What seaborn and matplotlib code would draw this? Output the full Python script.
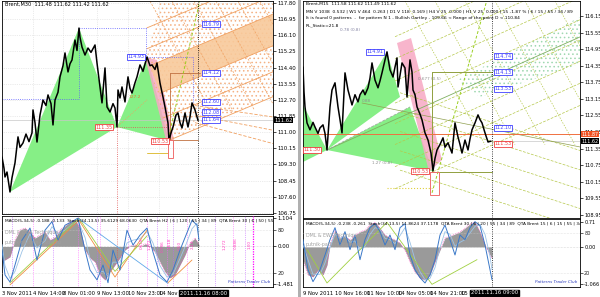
import numpy as np
import pandas as pd
import matplotlib
matplotlib.use("Agg")
import matplotlib.pyplot as plt
import seaborn as sns
from matplotlib.patches import Polygon, Rectangle

sns.set_theme(style="white")
plt.rcParams["font.family"] = ["DejaVu Sans"]
plt.rcParams["hatch.linewidth"] = 0.6

# ---------------- data: left chart (Brent M30) ----------------
left_bar = [2, 4, 5, 7, 10, 12, 15, 18, 20, 23, 26, 29, 32, 33, 35, 37, 40, 43, 46, 48, 51, 53, 55, 58,
            60, 63, 65, 68, 70, 72, 75, 77, 79, 80, 82, 85, 88, 91, 95, 97, 100, 102, 105, 107, 110,
            113, 115, 117, 118, 120, 122, 125, 128, 130, 132, 135, 137, 140, 143, 147, 150, 152, 155,
            157, 160, 163, 165, 168, 169, 171, 173, 176, 178, 180, 182, 185, 188, 190, 192, 195, 198]
left_close = [109.69, 109.1, 108.64, 108.9, 107.85, 108.6, 109.38, 110.75, 110.2, 110.43, 110.9, 110.5,
              110.96, 112.17, 111.5, 110.48, 111.9, 112.69, 112.4, 112.96, 112.5, 111.38, 112.69, 113.1,
              113.91, 114.5, 115.17, 114.17, 114.6, 114.80, 115.85, 115.3, 116.48, 116.0, 115.48, 115.06,
              115.43, 115.2, 115.59, 114.64, 113.38, 112.54, 114.38, 112.33, 112.06, 112.5, 112.27,
              111.27, 113.22, 112.8, 113.38, 112.59, 113.91, 113.3, 113.06, 113.6, 113.91, 114.54, 114.2,
              114.96, 114.5, 114.54, 114.3, 114.64, 113.59, 112.85, 112.33, 111.48, 110.55, 110.96,
              111.27, 111.9, 112.01, 111.5, 111.22, 112.01, 111.27, 111.8, 112.54, 112.17, 111.62]
left_yticks = [117.80, 116.95, 116.10, 115.25, 114.40, 113.55, 112.70, 111.85, 111.00, 110.15,
               109.30, 108.45, 107.60, 106.75]
left_time_pos = [2, 33, 63, 97, 128, 159]
left_time_lbl = ["3 Nov 2011", "4 Nov 14:00", "8 Nov 01:00", "9 Nov 13:00", "10 Nov 23:00", "14 Nov 1"]
left_macd_x = [0, 5, 10, 15, 20, 25, 30, 35, 40, 45, 50, 55, 60, 65, 70, 75, 80, 85, 90, 95, 100,
               105, 110, 115, 120, 125, 130, 135, 140, 145, 150, 155, 160, 165, 170, 175, 180, 185,
               190, 195, 199]
left_macd = [-0.65, -0.53, -0.41, 0.26, 0.65, 0.73, 0.57, 0.33, 0.45, 0.57, 0.26, 0.37, 0.65, 0.81,
             0.96, 1.04, 0.73, -0.14, -0.45, -0.61, -1.12, -1.32, -1.0, -0.73, -0.45, -0.14, 0.02,
             0.06, -0.02, 0.10, 0.02, -0.22, -0.61, -1.0, -1.24, -1.12, -0.73, -0.34, 0.14, 0.33, 0.06]
left_st_x = [2, 5, 10, 15, 22, 30, 37, 45, 52, 58, 65, 72, 78, 85, 90, 97, 103, 108, 113, 120, 127,
             133, 140, 147, 153, 160, 167, 173, 180, 186, 192, 197, 199]
left_stoch = [52, 17, 7, 31, 66, 83, 38, 80, 92, 66, 87, 92, 97, 52, 24, 10, 31, 6, 52, 24, 80, 59,
              73, 83, 49, 17, 7, 24, 52, 73, 94, 87, 66]
left_sig = [60, 30, 12, 22, 50, 75, 55, 65, 85, 75, 80, 88, 93, 70, 40, 20, 22, 15, 35, 35, 62, 66,
            68, 78, 62, 30, 14, 18, 40, 60, 82, 90, 78]
left_zz_x = [10, 79, 115, 147]
left_zz_o = [3, 94, 14, 80]
left_zz_g = [6, 97, 22, 72]

# ---------------- data: right chart (Brent M15) ----------------
right_bar = [303, 304, 305, 307, 310, 313, 315, 318, 320, 323, 325, 327, 330, 332, 335, 338, 340, 342,
             345, 348, 350, 352, 355, 358, 360, 363, 365, 368, 370, 372, 375, 378, 380, 382, 385, 387,
             390, 393, 395, 397, 398, 400, 402, 405, 407, 410, 412, 413, 415, 417, 420, 422, 425, 428,
             431, 433, 435, 437, 440, 443, 445, 448, 452, 455, 458, 460, 462, 465, 468, 470, 472, 475,
             478, 480, 482, 485, 488, 491]
right_close = [114.30, 113.4, 112.86, 112.28, 112.03, 112.3, 112.13, 111.9, 112.10, 112.21, 111.9,
               111.30, 112.86, 113.47, 113.73, 112.86, 112.4, 111.92, 114.09, 113.47, 113.2, 112.93,
               113.3, 113.04, 113.3, 113.47, 113.3, 113.55, 113.9, 114.45, 113.83, 113.55, 113.8,
               114.09, 114.56, 114.85, 114.20, 113.94, 114.3, 114.63, 113.58, 114.0, 114.45, 114.27,
               113.22, 114.56, 114.12, 113.47, 113.3, 112.86, 112.6, 112.39, 111.92, 111.66, 111.19,
               110.55, 111.0, 111.30, 111.5, 111.74, 111.4, 111.56, 111.19, 112.28, 111.77, 111.5,
               111.19, 111.66, 111.30, 111.7, 112.03, 112.28, 112.57, 112.4, 112.28, 111.92, 111.59,
               111.62]
right_yticks = [116.15, 115.55, 114.95, 114.35, 113.75, 113.15, 112.55, 111.95, 111.35, 110.75,
                110.15, 109.55, 108.95]
right_time_pos = [303, 335, 367, 398, 430, 461]
right_time_lbl = ["9 Nov 2011", "10 Nov 16:00", "11 Nov 10:00", "14 Nov 05:00", "14 Nov 21:00", "15 N"]
right_macd_x = [303, 308, 313, 318, 323, 327, 330, 335, 340, 345, 350, 355, 360, 365, 370, 375, 380,
                385, 390, 395, 400, 405, 410, 415, 420, 425, 430, 435, 440, 445, 450, 455, 460, 465,
                470, 475, 480, 485, 490, 492]
right_macd = [-0.37, -0.80, -0.86, -0.66, -0.80, -0.52, 0.06, 0.48, 0.26, 0.31, 0.20, 0.34, 0.43,
              0.48, 0.63, 0.71, 0.54, 0.34, 0.26, 0.20, 0.11, -0.09, -0.43, -0.72, -0.89, -0.95, -0.80,
              -0.43, -0.09, 0.26, 0.31, 0.37, 0.43, 0.54, 0.66, 0.71, 0.43, 0.06, -0.23, -0.32]
right_st_x = [303, 308, 313, 320, 325, 330, 335, 340, 345, 350, 355, 360, 365, 370, 375, 380, 385,
              390, 395, 400, 405, 410, 415, 420, 425, 430, 435, 440, 445, 450, 455, 460, 465, 470,
              475, 480, 485, 490, 492]
right_stoch = [70, 25, 7, 25, 47, 70, 88, 62, 82, 55, 77, 40, 70, 88, 94, 82, 62, 77, 55, 88, 94, 47,
               25, 13, 5, 17, 40, 77, 92, 70, 47, 77, 70, 88, 97, 91, 62, 25, 10]
right_sig = [62, 40, 18, 18, 35, 58, 78, 72, 75, 66, 68, 55, 60, 78, 88, 86, 72, 70, 64, 76, 88, 66,
             40, 22, 10, 12, 28, 58, 82, 78, 60, 66, 70, 80, 90, 93, 78, 45, 25]
right_zz_x = [307, 327, 387, 432, 477]
right_zz_g = [55, 5, 96, 3, 40]

# ---------------- figure layout ----------------
W, H = 600, 297
fig = plt.figure(figsize=(6, 2.97), dpi=100)
fig.patch.set_facecolor("white")


def box(x0, y0, x1, y1):
    return [x0 / W, 1 - y1 / H, (x1 - x0) / W, (y1 - y0) / H]


axL = fig.add_axes(box(2, 1, 273, 214))
axLi = fig.add_axes(box(2, 216, 273, 287))
axR = fig.add_axes(box(303, 1, 580, 218))
axRi = fig.add_axes(box(303, 219, 580, 287))
fig.add_artist(Rectangle((298 / W, 0), 3 / W, 1, transform=fig.transFigure, color="#b0b0b0", lw=0))

FS = 3.9


def style(ax, fs=FS):
    ax.set_facecolor("white")
    for s in ax.spines.values():
        s.set_color("black")
        s.set_linewidth(0.6)
    ax.yaxis.tick_right()
    ax.tick_params(axis="both", labelsize=fs, length=2, width=0.5, pad=1, colors="black")


style(axL)
style(axLi)
style(axR, 3.6)
style(axRi, 3.6)

# ---------------- left main ----------------
axL.set_xlim(2, 273)
axL.set_ylim(106.69, 117.905)
axL.set_yticks(left_yticks)
axL.set_yticklabels([f"{v:.2f}" for v in left_yticks])
axL.set_xticks(left_time_pos)
axL.set_xticklabels([])
axL.grid(True, color="#d8d8d8", ls=":", lw=0.5)

X, A, B, C, D = (10, 107.85), (79, 116.48), (117, 111.27), (147, 114.96), (169, 110.55)
axL.add_patch(Polygon([X, A, B], closed=True, color="#86ef86", lw=0, zorder=1))
axL.add_patch(Polygon([B, C, D], closed=True, color="#86ef86", lw=0, zorder=1))
axL.add_patch(Polygon([(145, 114.96), (157, 114.80), (174, 110.59), (166, 110.59)], closed=True,
                      color="#f7a8c4", lw=0, alpha=0.85, zorder=1))

# orange channel
slope = 0.0221
lev = [110.59, 111.9, 113.27, 114.94, 115.9, 117.0]
starts = [169, 163, 160, 150, 147, 147]


def ch(level, x):
    return level + slope * (x - 170)


axL.add_patch(Polygon([(147, 114.96), (169, 110.59), (273, ch(110.59, 273)), (273, 117.9), (160, 117.9)],
                      closed=True, fill=False, hatch="....", ec="#f4b183", lw=0, zorder=1))
axL.add_patch(Polygon([(160, ch(113.27, 160)), (273, ch(113.27, 273)), (273, ch(114.94, 273)),
                       (150, ch(114.94, 150))], closed=True, color="#f8c99a", lw=0, alpha=0.9, zorder=1))
for lv, s0 in zip(lev, starts):
    axL.plot([s0, 273], [ch(lv, s0), ch(lv, 273)], color="#f0a060", lw=0.6, zorder=2)
for x0 in [150, 172, 194, 216, 238, 260, 282]:
    axL.plot([x0, x0 + 60], [117.9, 117.9 - 0.095 * 60], color="#f0a060", lw=0.5, ls=(0, (3, 2)), zorder=2)
for p0, p1 in [(112.4, 111.8), (111.9, 111.1), (111.5, 110.4)]:
    axL.plot([195, 273], [p0, p1], color="#f0a060", lw=0.6, ls=(0, (4, 2)), zorder=2)

# helper lines
axL.plot([2, 79], [112.75, 112.75], color="#5a5aff", lw=0.6, ls=":", zorder=2)
axL.plot([79, 79], [116.48, 112.75], color="#5a5aff", lw=0.6, ls=":", zorder=2)
axL.plot([79, 146], [116.48, 116.48], color="#5a5aff", lw=0.6, ls=":", zorder=2)
axL.plot([146, 146], [116.48, 114.96], color="#5a5aff", lw=0.6, ls=":", zorder=2)
axL.plot([147, 193], [114.96, 114.96], color="#5a5aff", lw=0.6, ls=":", zorder=2)
axL.plot([193, 193], [114.96, 112.54], color="#5a5aff", lw=0.6, ls=":", zorder=2)
axL.plot([117, 170], [111.27, 111.27], color="#e05050", lw=0.6, ls=":", zorder=2)
axL.plot([117, 117], [111.27, 106.69], color="#e05050", lw=0.6, ls=":", zorder=2)
axL.plot([117, 147], [111.27, 112.7], color="#f0a060", lw=0.6, ls=":", zorder=2)
axL.plot([170, 200], [114.12, 114.12], color="#c07040", lw=0.6, zorder=2)
axL.plot([170, 170], [114.12, 110.59], color="#c07040", lw=0.6, zorder=2)
axL.plot([170, 198], [110.59, 110.59], color="#c07040", lw=0.6, zorder=2)
axL.add_patch(Rectangle((168, 109.64), 5, 0.95, fill=False, ec="#f07070", lw=0.7, zorder=3))
axL.plot([147, 168], [109.91, 109.91], color="#e0c040", lw=0.7, zorder=2)
axL.plot([168, 200], [110.59, 117.96], color="#9ad020", lw=0.7, ls=(0, (3, 2)), zorder=2)
axL.axhline(111.62, color="#c8c8c8", lw=0.5, zorder=1)
axL.axvline(198, color="black", lw=0.6, ls=":", zorder=2)
axL.text(129, 112.80, "127.2", fontsize=3.2, color="#e08030", zorder=3)

sns.lineplot(x=left_bar, y=left_close, ax=axL, color="black", lw=1.1, zorder=4, estimator=None)


def tag(ax, x, y, s, ec):
    ax.text(x, y, s, fontsize=3.5, color=ec, ha="center", va="center", zorder=6,
            bbox=dict(boxstyle="square,pad=0.12", fc="white", ec=ec, lw=0.6))


def axtag(ax, y, s, fc, fs=3.8, tc="white"):
    ax.annotate(s, xy=(1.0, y), xycoords=("axes fraction", "data"), xytext=(1.0, 0),
                textcoords="offset points", fontsize=fs, color=tc, ha="left", va="center", zorder=7,
                annotation_clip=False, bbox=dict(boxstyle="square,pad=0.1", fc=fc, ec=fc, lw=0))


BL, RD = "#4040ff", "#f04040"
tag(axL, 136, 114.96, "114.93", BL)
tag(axL, 211, 116.68, "116.79", BL)
tag(axL, 211, 114.12, "114.12", BL)
tag(axL, 211, 112.59, "112.60", BL)
tag(axL, 211, 112.06, "112.08", BL)
tag(axL, 211, 111.64, "111.64", BL)
tag(axL, 104, 111.27, "111.35", RD)
tag(axL, 160, 110.53, "110.53", RD)
axtag(axL, 111.62, "111.62", "black")
axL.text(0.01, 0.995, "Brent,M30  111.48 111.62 111.42 111.62", transform=axL.transAxes,
         fontsize=3.6, va="top", ha="left", color="black", zorder=8)

# ---------------- left indicator ----------------
axLi.set_xlim(2, 273)
axLi.set_ylim(-1.6, 1.2)
axLi.fill_between(left_macd_x, 0, left_macd, color="#9a9a9a", lw=0, zorder=1)
axLi.plot(left_macd_x, left_macd, color="#ff40c0", lw=0.5, ls=":", zorder=2)
axLi.axhline(0, color="#bbbbbb", lw=0.4, ls=":")
stL = axLi.twinx()
axLi.yaxis.tick_right()
axLi.set_yticks([1.104, 0.0, -1.481])
axLi.set_yticklabels(["1.104", "0.00", "-1.481"])
axLi.set_xticks(left_time_pos)
axLi.set_xticklabels(left_time_lbl, ha="left", fontsize=3.8)
stL.set_ylim(0, 100)
stL.set_yticks([80, 20])
stL.tick_params(labelsize=FS, length=2, width=0.5, pad=1)
for s in stL.spines.values():
    s.set_visible(False)
stL.axhline(80, color="#cccccc", lw=0.4, ls=":")
stL.axhline(20, color="#cccccc", lw=0.4, ls=":")
for xv, c in zip([12, 33, 53, 78, 97, 100, 128, 147, 157, 167, 173, 187, 215, 233, 245],
                 ["#c060ff", "#ff60ff"] * 8):
    stL.axvline(xv, color=c, lw=0.5, ls=":", zorder=1)
stL.axvline(117, color="#e05050", lw=0.5, ls=":", zorder=1)
stL.axvline(253, color="#ff00ff", lw=0.9, ls=(0, (1, 1)), zorder=1)
stL.axvline(198, color="black", lw=0.6, ls=":", zorder=1)
sns.lineplot(x=left_st_x, y=left_sig, ax=stL, color="#9cc3e6", lw=0.6, zorder=3, estimator=None)
sns.lineplot(x=left_st_x, y=left_stoch, ax=stL, color="#3a78c8", lw=0.7, zorder=4, estimator=None)
stL.plot(left_zz_x, left_zz_o, color="#f09040", lw=0.6, zorder=3)
stL.plot(left_zz_x, left_zz_g, color="#a0d040", lw=0.6, zorder=3)
stL.plot([79, 168], [96, 5], color="#60a8e8", lw=0.6, zorder=3)
stL.plot([168, 192], [6, 38], color="#f09040", lw=0.6, zorder=3)
for xv, yv, s in [(142, 62, "0.618"), (150, 60, "1.272"), (163, 58, "0.786"), (170, 62, "1.618"),
                  (180, 58, "0.50"), (193, 60, "2.24"), (225, 60, "1.272"), (236, 62, "0.886"),
                  (250, 60, "1.00")]:
    stL.text(xv, yv, s, fontsize=3.0, color="#ff40c0", rotation=90, ha="center", va="center", zorder=3)
stL.text(0.01, 0.97, "MACD(5,34,5) -0.188 -0.133  Stoch(34,13,5) 35.6129 68.0630  QTA Brent H2 | 6 | 120 | 55 | 34 | 89  QTA Brent 30 | 6 | 50 | 55 /",
         transform=stL.transAxes, fontsize=3.1, va="top", ha="left", color="black", zorder=8,
         clip_on=True)
stL.text(0.01, 0.80, "DML & EWA Technique", transform=stL.transAxes, fontsize=3.4, va="top",
         color="#a0a0a0", zorder=8)
stL.text(0.01, 0.66, "putnik-pattern-trader.ru", transform=stL.transAxes, fontsize=3.4, va="top",
         color="#a0a0a0", zorder=8)
stL.text(0.99, 0.06, "Patterns Trader Club", transform=stL.transAxes, fontsize=3, ha="right",
         color="#3040c0", style="italic", zorder=8)
axLi.text(180, -0.085, "2011.11.16 08:00", transform=axLi.get_xaxis_transform(), fontsize=3.8,
          color="white", ha="left", va="center", clip_on=False, zorder=9,
          bbox=dict(boxstyle="square,pad=0.1", fc="black", ec="black"))

# ---------------- right main ----------------
axR.set_xlim(303, 580)
axR.set_ylim(108.84, 116.69)
axR.set_yticks(right_yticks)
axR.set_yticklabels([f"{v:.2f}" for v in right_yticks])
axR.set_xticks(right_time_pos)
axR.set_xticklabels([])

RX, RA, RD_ = (327, 111.30), (387, 114.85), (433, 110.53)
GR = "#86ef86"
axR.add_patch(Polygon([(290, 113.81), RX, (290, 110.63)], closed=True, color=GR, lw=0, zorder=1))
axR.add_patch(Polygon([RX, RA, (400, 113.22)], closed=True, color=GR, lw=0, zorder=1))
axR.add_patch(Polygon([RX, (410, 112.86), RD_], closed=True, color=GR, lw=0, zorder=1))
axR.add_patch(Polygon([(397, 115.17), (411, 115.35), (442, 110.94), (429, 110.51)], closed=True,
                      color="#f7a8c4", lw=0, alpha=0.85, zorder=1))
axR.add_patch(Polygon([(457, 113.83), (580, 116.11), (580, 114.41), (480, 113.22)], closed=True,
                      fill=False, hatch="....", ec="#9fd8b0", lw=0, zorder=1))
OL = "#b5c84a"
rs = 0.0163
for lv in [110.5, 111.3, 112.1, 112.86, 113.6, 114.4, 115.2, 116.0]:
    axR.plot([395, 580], [lv + rs * (395 - 432), lv + rs * (580 - 432)], color=OL, lw=0.5,
             ls=(0, (4, 2)), zorder=2)
fs_ = -0.0116
for lv in [113.0, 112.3, 111.6, 110.9, 110.2]:
    axR.plot([400, 580], [lv + fs_ * (400 - 432), lv + fs_ * (580 - 432)], color=OL, lw=0.5,
             ls=(0, (4, 2)), zorder=2)
for x0 in [405, 435, 465, 495, 525, 555, 585]:
    axR.plot([x0, x0 + 80], [116.69, 116.69 - 0.065 * 80], color=OL, lw=0.5, ls=(0, (2, 2)), zorder=2)
axR.plot([327, 580], [111.30, 115.39], color="#7fb060", lw=0.6, zorder=2)
axR.plot([327, 410], [111.30, 112.86], color="#a0a0a0", lw=0.5, ls=(0, (4, 2)), zorder=2)
axR.plot([362, 580], [113.00, 111.41], color="#90a050", lw=0.5, zorder=2)
axR.plot([432, 492], [114.12, 114.12], color="#90a040", lw=0.7, zorder=2)
axR.plot([432, 432], [114.12, 110.51], color="#90a040", lw=0.7, zorder=2)
axR.plot([432, 492], [110.51, 110.51], color="#90a040", lw=0.7, zorder=2)
axR.plot([387, 432], [109.93, 109.93], color="#e0d040", lw=0.8, ls=":", zorder=2)
axR.add_patch(Rectangle((430, 109.67), 9, 0.84, fill=False, ec="#f07070", lw=0.7, zorder=3))
axR.plot([432, 487], [109.75, 116.73], color="#9ad020", lw=0.7, ls=(0, (3, 2)), zorder=2)
axR.axhline(111.87, color="#f07040", lw=0.7, zorder=2)
axR.plot([491, 580], [111.62, 111.62], color="#c8c8c8", lw=0.5, zorder=1)
axR.axvline(492, color="black", lw=0.6, ls=":", zorder=2)
axR.text(340, 115.60, "0.78 (0.8)", fontsize=3.0, color="#8080a0", zorder=3)
axR.text(362, 113.05, "0.88", fontsize=3.0, color="#909090", zorder=3)
axR.text(372, 110.80, "1.27 (0.8)", fontsize=3.0, color="#909090", zorder=3)
axR.text(418, 113.85, "0.677 (0.5)", fontsize=3.0, color="#909090", zorder=3)

sns.lineplot(x=right_bar, y=right_close, ax=axR, color="black", lw=1.1, zorder=4, estimator=None)

tag(axR, 312, 111.30, "111.30", RD)
tag(axR, 375, 114.85, "114.91", BL)
tag(axR, 420, 110.53, "110.53", RD)
tag(axR, 503, 114.70, "114.74", BL)
tag(axR, 503, 114.12, "114.13", BL)
tag(axR, 503, 113.51, "113.53", BL)
tag(axR, 503, 112.10, "112.10", BL)
tag(axR, 503, 111.53, "111.53", RD)
axtag(axR, 111.87, "111.87", "#f05020", fs=3.5)
axtag(axR, 111.62, "111.62", "black", fs=3.5)
hdr = ["Brent,M15  111.58 111.62 111.49 111.62",
       "MN V 1038  0.532 | W1 V 464  0.263 | D1 V 118  0.169 | H4 V 25  0.000 | H1 V 25  0.000 | 15 -1.87 % | 6 / 15 / 55 / 34 / 89",
       "It is found 0 patterns  -  for pattern N 1 - Bullish Gartley - 109.66 < Range of the point D < 110.84",
       "RL_Static=21.8"]
for i, line in enumerate(hdr):
    axR.text(0.01, 0.995 - i * 0.033, line, transform=axR.transAxes, fontsize=3.2, va="top",
             ha="left", color="black", zorder=8, clip_on=True)

# ---------------- right indicator ----------------
axRi.set_xlim(303, 580)
axRi.set_ylim(-1.15, 0.80)
axRi.fill_between(right_macd_x, 0, right_macd, color="#9a9a9a", lw=0, zorder=1)
axRi.plot(right_macd_x, right_macd, color="#ff40c0", lw=0.5, ls=":", zorder=2)
axRi.axhline(0, color="#bbbbbb", lw=0.4, ls=":")
stR = axRi.twinx()
axRi.yaxis.tick_right()
axRi.set_yticks([0.71, 0.0, -1.066])
axRi.set_yticklabels(["0.71", "0.00", "-1.066"])
axRi.set_xticks(right_time_pos)
axRi.set_xticklabels(right_time_lbl, ha="left", fontsize=3.8)
stR.set_ylim(-1, 101)
stR.set_yticks([80, 20])
stR.tick_params(labelsize=3.6, length=2, width=0.5, pad=1)
for s in stR.spines.values():
    s.set_visible(False)
stR.axhline(80, color="#cccccc", lw=0.4, ls=":")
stR.axhline(20, color="#cccccc", lw=0.4, ls=":")
stR.axvline(492, color="black", lw=0.6, ls=":", zorder=1)
sns.lineplot(x=right_st_x, y=right_sig, ax=stR, color="#9cc3e6", lw=0.6, zorder=3, estimator=None)
sns.lineplot(x=right_st_x, y=right_stoch, ax=stR, color="#3a78c8", lw=0.7, zorder=4, estimator=None)
stR.plot(right_zz_x, right_zz_g, color="#a0d040", lw=0.6, zorder=3)
stR.text(0.01, 0.97, "MACD(5,34,5) -0.238 -0.261  Stoch(34,13,5) 11.8624 37.1178  QTA Brent 30 | 6 | 20 | 55 | 34 | 89  QTA Brent 15 | 6 | 15 | 55 | 34 /",
         transform=stR.transAxes, fontsize=3.1, va="top", ha="left", color="black", zorder=8,
         clip_on=True)
stR.text(0.01, 0.80, "DML & EWA Technique", transform=stR.transAxes, fontsize=3.4, va="top",
         color="#a0a0a0", zorder=8)
stR.text(0.01, 0.66, "putnik-pattern-trader.ru", transform=stR.transAxes, fontsize=3.4, va="top",
         color="#a0a0a0", zorder=8)
stR.text(0.99, 0.06, "Patterns Trader Club", transform=stR.transAxes, fontsize=3, ha="right",
         color="#3040c0", style="italic", zorder=8)
axRi.text(471, -0.088, "2011.11.16 09:00", transform=axRi.get_xaxis_transform(), fontsize=3.8,
          color="white", ha="left", va="center", clip_on=False, zorder=9,
          bbox=dict(boxstyle="square,pad=0.1", fc="black", ec="black"))

for a in (axL, axLi, axR, axRi, stL, stR):
    a.set_xlabel("")
    a.set_ylabel("")

fig.savefig("out.png", dpi=100, facecolor="white")
